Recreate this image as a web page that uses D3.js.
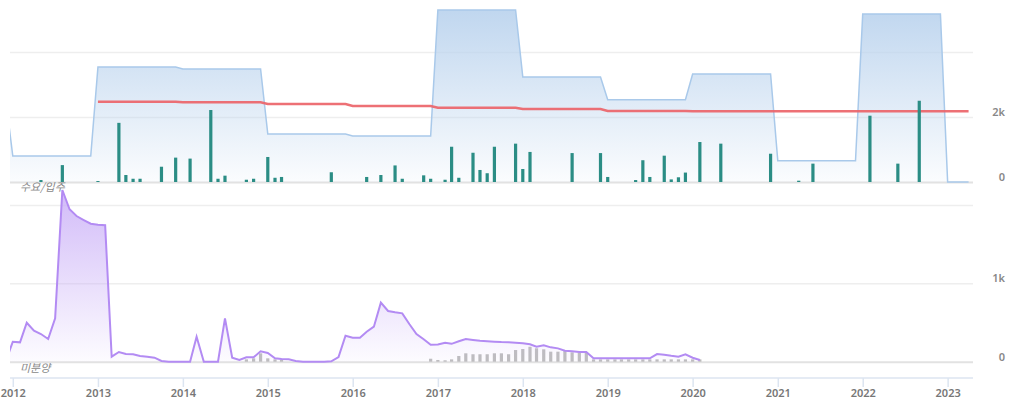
<!DOCTYPE html>
<html>
<head>
<meta charset="utf-8">
<script src="https://cdn.jsdelivr.net/npm/d3@7"></script>
<style>
html,body{margin:0;padding:0;background:#fff;}
svg{display:block;}
text{font-family:"Noto Sans","Noto Sans CJK KR",sans-serif;}
</style>
</head>
<body>
<svg id="chart" width="1020" height="406"></svg>
<script>
// ---------- DATA ----------
// Top panel: supply (blue area) step corners
const supplyDates  = ["2011-12","2012-01","2012-12","2013-01","2013-12","2014-01","2014-12","2015-01","2015-12","2016-01","2016-12","2017-01","2017-12","2018-01","2018-12","2019-01","2019-12","2020-01","2020-12","2021-01","2021-12","2022-01","2022-12","2023-01","2023-04"];
const supplyValues = [2585,800,800,3538,3538,3477,3477,1477,1477,1415,1415,5292,5292,3231,3231,2532,2532,3323,3323,655,655,5169,5169,0,0];

// Top panel: demand (red line) step corners
const demandDates  = ["2013-01","2013-12","2014-01","2014-12","2015-01","2015-12","2016-01","2016-12","2017-01","2017-12","2018-01","2018-12","2019-01","2019-12","2020-01","2023-04"];
const demandValues = [2471,2471,2452,2452,2400,2400,2338,2338,2286,2286,2246,2246,2185,2185,2175,2175];

// Top panel: move-in (teal bars)
const moveinDates  = ["2012-05","2012-08","2013-01","2013-04","2013-05","2013-06","2013-07","2013-10","2013-12","2014-02","2014-05","2014-06","2014-07","2014-10","2014-11","2015-01","2015-02","2015-03","2015-10","2016-03","2016-05","2016-07","2016-08","2016-11","2016-12","2017-02","2017-03","2017-04","2017-06","2017-07","2017-08","2017-09","2017-12","2018-01","2018-02","2018-08","2018-12","2019-01","2019-05","2019-06","2019-07","2019-09","2019-10","2019-11","2019-12","2020-02","2020-05","2020-12","2021-04","2021-06","2022-02","2022-06","2022-09"];
const moveinValues = [60,520,30,1820,215,100,100,470,750,720,2215,100,195,70,100,770,130,155,300,155,215,510,100,205,100,70,1085,130,900,370,270,1085,1180,400,925,890,890,155,60,670,155,810,80,145,290,1230,1180,870,40,565,2040,565,2500];

// Bottom panel: unsold (purple line), monthly
const unsoldDates = ["2011-12","2012-01","2012-02","2012-03","2012-04","2012-05","2012-06","2012-07","2012-08","2012-09","2012-10","2012-11","2012-12",
  "2013-01","2013-02","2013-03","2013-04","2013-05","2013-06","2013-07","2013-08","2013-09","2013-10","2013-11","2013-12",
  "2014-01","2014-02","2014-03","2014-04","2014-05","2014-06","2014-07","2014-08","2014-09","2014-10","2014-11","2014-12",
  "2015-01","2015-02","2015-03","2015-04","2015-05","2015-06","2015-07","2015-08","2015-09","2015-10","2015-11","2015-12",
  "2016-01","2016-02","2016-03","2016-04","2016-05","2016-06","2016-07","2016-08","2016-09","2016-10","2016-11","2016-12",
  "2017-01","2017-02","2017-03","2017-04","2017-05","2017-06","2017-07","2017-08","2017-09","2017-10","2017-11","2017-12",
  "2018-01","2018-02","2018-03","2018-04","2018-05","2018-06","2018-07","2018-08","2018-09","2018-10","2018-11","2018-12",
  "2019-01","2019-02","2019-03","2019-04","2019-05","2019-06","2019-07","2019-08","2019-09","2019-10","2019-11","2019-12",
  "2020-01","2020-02"];
const unsoldValues = [0,255,247,497,395,353,290,553,2190,1944,1858,1807,1760,
  1747,1740,64,124,98,94,73,64,51,9,0,0,
  0,0,319,0,0,0,553,51,22,56,56,132,
  111,43,34,30,9,0,0,0,0,5,60,332,
  306,306,383,447,753,647,630,617,477,353,286,215,
  220,242,228,260,288,277,266,262,255,250,247,243,
  236,222,191,209,183,170,140,132,124,124,43,43,
  43,43,43,43,43,43,43,98,88,75,64,94,
  51,22];

// Bottom panel: unsold after completion (gray bars)
const afterDates  = ["2014-10","2014-11","2014-12","2015-01","2015-02","2015-03",
  "2016-12","2017-01","2017-02","2017-03","2017-04","2017-05","2017-06","2017-07","2017-08","2017-09","2017-10","2017-11","2017-12",
  "2018-01","2018-02","2018-03","2018-04","2018-05","2018-06","2018-07","2018-08","2018-09","2018-10","2018-11","2018-12",
  "2019-01","2019-02","2019-03","2019-04","2019-05","2019-06","2019-07","2019-08","2019-09","2019-10","2019-11","2019-12",
  "2020-01","2020-02"];
const afterValues = [30,43,107,43,30,26,
  38,22,18,30,73,107,95,95,95,107,107,95,149,
  162,191,171,158,128,128,136,120,115,115,30,30,
  30,30,30,30,30,30,30,30,30,30,30,30,
  30,30];

const yearTicks = ["2012","2013","2014","2015","2016","2017","2018","2019","2020","2021","2022","2023"];
const topTicks = [0, 2000, 4000];
const topLabelTicks = [0, 2000];
const botTicks = [0, 1000, 2000];
const botLabelTicks = [0, 1000];
const topLabel = "수요/입주";
const botLabel = "미분양";

// ---------- CHART ----------
const parseM = d3.timeParse("%Y-%m");
const parseY = d3.timeParse("%Y");
const zip = (ds, vs) => ds.map((d, i) => ({date: parseM(d), value: vs[i]}));

const supply = zip(supplyDates, supplyValues);
const demand = zip(demandDates, demandValues);
const movein = zip(moveinDates, moveinValues);
const unsold = zip(unsoldDates, unsoldValues);
const after = zip(afterDates, afterValues);

const svg = d3.select("#chart");
const L = 10, R = 973;
const x = d3.scaleTime().domain([new Date(2011, 11, 20), new Date(2023, 3, 20)]).range([L, R]);
const yTop = d3.scaleLinear().domain([0, 2000]).range([182, 117]);
const yBot = d3.scaleLinear().domain([0, 1000]).range([361.7, 283.3]);

const defs = svg.append("defs");
defs.append("clipPath").attr("id", "clip").append("rect").attr("x", L).attr("y", 0).attr("width", R - L).attr("height", 380);

const gBlue = defs.append("linearGradient").attr("id", "gBlue").attr("gradientUnits", "userSpaceOnUse")
  .attr("x1", 0).attr("x2", 0).attr("y1", 8).attr("y2", 182);
gBlue.append("stop").attr("offset", 0).attr("stop-color", "#bcd4ee").attr("stop-opacity", 0.95);
gBlue.append("stop").attr("offset", 1).attr("stop-color", "#bcd4ee").attr("stop-opacity", 0.06);

const gPurple = defs.append("linearGradient").attr("id", "gPurple").attr("gradientUnits", "userSpaceOnUse")
  .attr("x1", 0).attr("x2", 0).attr("y1", 188).attr("y2", 362);
gPurple.append("stop").attr("offset", 0).attr("stop-color", "#c9aef7").attr("stop-opacity", 0.85);
gPurple.append("stop").attr("offset", 1).attr("stop-color", "#c9aef7").attr("stop-opacity", 0.04);

// gridlines
svg.append("g").attr("transform", `translate(${L},0)`)
  .call(d3.axisLeft(yTop).tickValues(topTicks).tickSize(-(R - L)).tickFormat(""))
  .call(g => g.select(".domain").remove())
  .call(g => g.selectAll("line").attr("stroke", d => d === 0 ? "#e2e2e2" : "#eeeeee").attr("stroke-width", d => d === 0 ? 2 : 1.5));
svg.append("g").attr("transform", `translate(${L},0)`)
  .call(d3.axisLeft(yBot).tickValues(botTicks).tickSize(-(R - L)).tickFormat(""))
  .call(g => g.select(".domain").remove())
  .call(g => g.selectAll("line").attr("stroke", d => d === 0 ? "#e2e2e2" : "#eeeeee").attr("stroke-width", d => d === 0 ? 2 : 1.5));

// right labels
const fmt = d => d === 0 ? "0" : (d / 1000) + "k";
svg.append("g").attr("transform", `translate(1005,0)`)
  .call(d3.axisRight(yTop).tickValues(topLabelTicks).tickSize(0).tickFormat(fmt))
  .call(g => g.select(".domain").remove())
  .call(g => g.selectAll("text").attr("x", 0).attr("y", -5).attr("text-anchor", "end")
      .attr("fill", "#888").attr("font-size", 11).attr("font-weight", 600).style("font-family", "'Noto Sans',sans-serif"));
svg.append("g").attr("transform", `translate(1005,0)`)
  .call(d3.axisRight(yBot).tickValues(botLabelTicks).tickSize(0).tickFormat(fmt))
  .call(g => g.select(".domain").remove())
  .call(g => g.selectAll("text").attr("x", 0).attr("y", -5).attr("text-anchor", "end")
      .attr("fill", "#888").attr("font-size", 11).attr("font-weight", 600).style("font-family", "'Noto Sans',sans-serif"));

// x axis
const xAxisG = svg.append("g").attr("transform", "translate(0,378)")
  .call(d3.axisBottom(x).tickValues(yearTicks.map(parseY)).tickSize(9).tickPadding(2).tickFormat(d3.timeFormat("%Y")));
xAxisG.select(".domain").attr("d", `M${L},0H${R}`).attr("stroke", "#dce5f1").attr("stroke-width", 1.5);
xAxisG.selectAll(".tick line").attr("stroke", "#dce5f1").attr("stroke-width", 1.5);
xAxisG.selectAll(".tick text").attr("fill", "#777").attr("font-size", 11).attr("font-weight", 600)
  .style("font-family", "'Noto Sans',sans-serif");

const plot = svg.append("g").attr("clip-path", "url(#clip)");

// top: blue area
plot.append("path").datum(supply)
  .attr("fill", "url(#gBlue)")
  .attr("d", d3.area().x(d => x(d.date)).y0(yTop(0)).y1(d => yTop(d.value)));
plot.append("path").datum(supply)
  .attr("fill", "none").attr("stroke", "#a9c9ea").attr("stroke-width", 1.5)
  .attr("d", d3.line().x(d => x(d.date)).y(d => yTop(d.value)));

// top: red line
plot.append("path").datum(demand)
  .attr("fill", "none").attr("stroke", "#ec6469").attr("stroke-width", 2.5).attr("stroke-opacity", 0.92)
  .attr("d", d3.line().x(d => x(d.date)).y(d => yTop(d.value)));

// top: teal bars
plot.selectAll("rect.movein").data(movein).join("rect").attr("class", "movein")
  .attr("x", d => x(d.date) - 1.6).attr("width", 3.2)
  .attr("y", d => yTop(d.value)).attr("height", d => yTop(0) - yTop(d.value))
  .attr("fill", "#2b8d85");

// panel labels
svg.append("text").attr("x", 20).attr("y", 191).text(topLabel)
  .attr("font-size", 11).attr("font-style", "italic").attr("fill", "#888")
  .style("font-family", "'Noto Sans CJK KR',sans-serif");
svg.append("text").attr("x", 20).attr("y", 372).text(botLabel)
  .attr("font-size", 11).attr("font-style", "italic").attr("fill", "#888")
  .style("font-family", "'Noto Sans CJK KR',sans-serif");

// bottom: gray bars
plot.selectAll("rect.after").data(after).join("rect").attr("class", "after")
  .attr("x", d => x(d.date) - 1.6).attr("width", 3.2)
  .attr("y", d => yBot(d.value)).attr("height", d => yBot(0) - yBot(d.value))
  .attr("fill", "#bdbdbd");

// bottom: purple area + line
plot.append("path").datum(unsold)
  .attr("fill", "url(#gPurple)")
  .attr("d", d3.area().x(d => x(d.date)).y0(yBot(0)).y1(d => yBot(d.value)));
plot.append("path").datum(unsold)
  .attr("fill", "none").attr("stroke", "#b38bf3").attr("stroke-width", 2)
  .attr("d", d3.line().x(d => x(d.date)).y(d => yBot(d.value)));
</script>
</body>
</html>
